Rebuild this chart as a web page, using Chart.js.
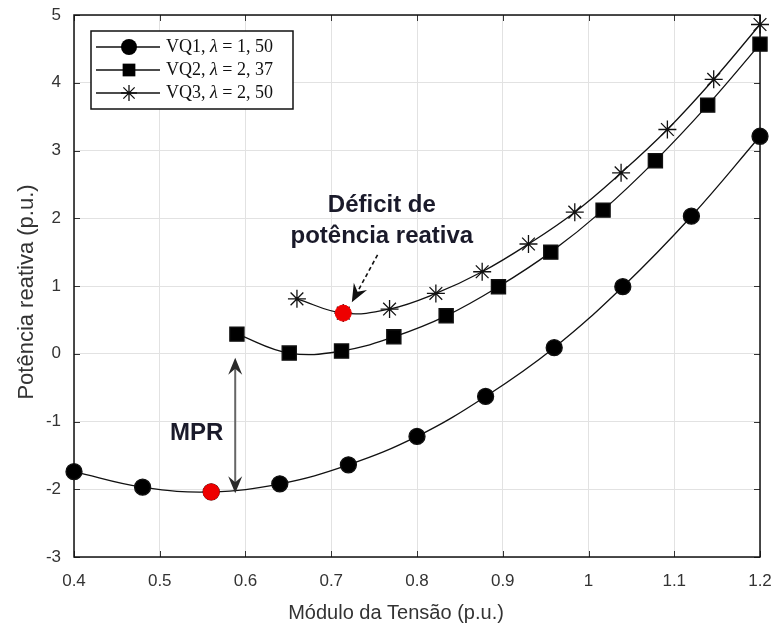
<!DOCTYPE html>
<html>
<head>
<meta charset="utf-8">
<script src="https://cdn.jsdelivr.net/npm/chart.js@4/dist/chart.umd.min.js"></script>
<style>
  html, body { margin: 0; padding: 0; background: #fff; }
  #wrap { width: 774px; height: 625px; position: relative; }
</style>
</head>
<body>
<div id="wrap"><canvas id="grafico"></canvas></div>
<script>
// ── datos ────────────────────────────────────────────────────────────────────
const vq1X = [0.40, 0.48, 0.56, 0.64, 0.72, 0.80, 0.88, 0.96, 1.04, 1.12, 1.20];
const vq1Y = [-1.74, -1.97, -2.04, -1.92, -1.64, -1.22, -0.63, 0.09, 0.99, 2.03, 3.21];

const vq2X = [0.59, 0.651, 0.712, 0.773, 0.834, 0.895, 0.956, 1.017, 1.078, 1.139, 1.20];
const vq2Y = [0.29, 0.01, 0.04, 0.25, 0.56, 0.99, 1.50, 2.12, 2.85, 3.67, 4.57];

const vq3X = [0.66, 0.714, 0.768, 0.822, 0.876, 0.93, 0.984, 1.038, 1.092, 1.146, 1.20];
const vq3Y = [0.81, 0.60, 0.66, 0.89, 1.21, 1.62, 2.09, 2.67, 3.31, 4.05, 4.86];

const seriesLabels = ['VQ1, ', 'VQ2, ', 'VQ3, '];
const lambdaValues = ['1, 50', '2, 37', '2, 50'];

// puntos marcados en rojo (índices dentro de VQ1 y VQ3)
const redPoints = [{ x: vq1X[2], y: vq1Y[2] }, { x: vq3X[1], y: vq3Y[1] }];

const xTicks = [0.4, 0.5, 0.6, 0.7, 0.8, 0.9, 1, 1.1, 1.2];
const yTicks = [-3, -2, -1, 0, 1, 2, 3, 4, 5];

// anotaciones (coordenadas de datos)
const mprArrow = { x: 0.588, top: -0.06, bottom: -2.06 };
const mprText = { x: 0.543, y: -1.27, text: 'MPR' };
const deficitArrow = { x0: 0.754, y0: 1.46, x1: 0.724, y1: 0.76 };
const deficitText = { x: 0.759, y1: 2.09, y2: 1.63, lines: ['Déficit de', 'potência reativa'] };

const xTitle = 'Módulo da Tensão (p.u.)';
const yTitle = 'Potência reativa (p.u.)';

const toXY = (xs, ys) => xs.map((x, i) => ({ x, y: ys[i] }));

// ── helpers de dibujo ────────────────────────────────────────────────────────
function arrowHead(ctx, tx, ty, ang, len, half, notch) {
  ctx.save();
  ctx.translate(tx, ty);
  ctx.rotate(ang);
  ctx.beginPath();
  ctx.moveTo(0, 0);
  ctx.lineTo(-len, -half);
  ctx.lineTo(-len + notch, 0);
  ctx.lineTo(-len, half);
  ctx.closePath();
  ctx.fill();
  ctx.restore();
}

function marker(ctx, style, x, y, r) {
  ctx.beginPath();
  if (style === 'circle') {
    ctx.arc(x, y, r, 0, Math.PI * 2);
    ctx.fill();
  } else if (style === 'rect') {
    const s = r * Math.SQRT1_2;
    ctx.fillRect(x - s, y - s, 2 * s, 2 * s);
  } else {
    for (let k = 0; k < 4; k++) {
      const a = k * Math.PI / 4;
      ctx.moveTo(x - r * Math.cos(a), y - r * Math.sin(a));
      ctx.lineTo(x + r * Math.cos(a), y + r * Math.sin(a));
    }
    ctx.stroke();
  }
}

// ── marco, ticks hacia dentro ────────────────────────────────────────────────
const framePlugin = {
  id: 'frame',
  beforeDatasetsDraw(chart) {
    const { ctx, chartArea: a, scales: { x, y } } = chart;
    ctx.save();
    ctx.strokeStyle = '#333';
    ctx.lineWidth = 1;
    ctx.beginPath();
    x.ticks.forEach(t => {
      const px = Math.round(x.getPixelForValue(t.value)) + 0.5;
      ctx.moveTo(px, a.bottom); ctx.lineTo(px, a.bottom - 6);
      ctx.moveTo(px, a.top); ctx.lineTo(px, a.top + 6);
    });
    y.ticks.forEach(t => {
      const py = Math.round(y.getPixelForValue(t.value)) + 0.5;
      ctx.moveTo(a.left, py); ctx.lineTo(a.left + 6, py);
      ctx.moveTo(a.right, py); ctx.lineTo(a.right - 6, py);
    });
    ctx.stroke();
    ctx.strokeStyle = '#111';
    ctx.lineWidth = 1.5;
    ctx.strokeRect(a.left, a.top, a.right - a.left, a.bottom - a.top);
    ctx.restore();
  },
};

// ── leyenda, anotaciones y títulos ───────────────────────────────────────────
const overlayPlugin = {
  id: 'overlay',
  afterDraw(chart) {
    const { ctx, chartArea: a, scales: { x, y } } = chart;
    ctx.save();

    // flecha MPR (doble)
    const mx = x.getPixelForValue(mprArrow.x);
    const mt = y.getPixelForValue(mprArrow.top);
    const mb = y.getPixelForValue(mprArrow.bottom);
    ctx.strokeStyle = '#666';
    ctx.fillStyle = '#2a2a2a';
    ctx.lineWidth = 2;
    ctx.beginPath();
    ctx.moveTo(mx, mt + 8); ctx.lineTo(mx, mb - 8);
    ctx.stroke();
    arrowHead(ctx, mx, mt, -Math.PI / 2, 17, 7, 6);
    arrowHead(ctx, mx, mb, Math.PI / 2, 17, 7, 6);

    ctx.fillStyle = '#1a1a2a';
    ctx.font = 'bold 24px "Liberation Sans", Arial, sans-serif';
    ctx.textAlign = 'center';
    ctx.textBaseline = 'alphabetic';
    ctx.fillText(mprText.text, x.getPixelForValue(mprText.x), y.getPixelForValue(mprText.y));

    // texto y flecha discontinua del déficit
    const dx = x.getPixelForValue(deficitText.x);
    ctx.fillText(deficitText.lines[0], dx, y.getPixelForValue(deficitText.y1));
    ctx.fillText(deficitText.lines[1], dx, y.getPixelForValue(deficitText.y2));

    const ax0 = x.getPixelForValue(deficitArrow.x0), ay0 = y.getPixelForValue(deficitArrow.y0);
    const ax1 = x.getPixelForValue(deficitArrow.x1), ay1 = y.getPixelForValue(deficitArrow.y1);
    const ang = Math.atan2(ay1 - ay0, ax1 - ax0);
    ctx.strokeStyle = '#111';
    ctx.fillStyle = '#111';
    ctx.lineWidth = 1.6;
    ctx.setLineDash([4, 3]);
    ctx.beginPath();
    ctx.moveTo(ax0, ay0);
    ctx.lineTo(ax1 - 12 * Math.cos(ang), ay1 - 12 * Math.sin(ang));
    ctx.stroke();
    ctx.setLineDash([]);
    arrowHead(ctx, ax1, ay1, ang, 18, 7.5, 6);

    // leyenda
    const lx = a.left + 17, ly = a.top + 16, lw = 202, lh = 78;
    ctx.fillStyle = '#fff';
    ctx.fillRect(lx, ly, lw, lh);
    ctx.strokeStyle = '#111';
    ctx.lineWidth = 1.5;
    ctx.strokeRect(lx, ly, lw, lh);
    const styles = ['circle', 'rect', 'star'];
    const radii = [8, 9, 8];
    styles.forEach((st, i) => {
      const ry = ly + 16 + i * 23;
      ctx.strokeStyle = '#111';
      ctx.fillStyle = '#000';
      ctx.lineWidth = 1.3;
      ctx.beginPath();
      ctx.moveTo(lx + 5, ry); ctx.lineTo(lx + 69, ry);
      ctx.stroke();
      marker(ctx, st, lx + 38, ry, radii[i]);
      let tx = lx + 75;
      ctx.textAlign = 'left';
      ctx.textBaseline = 'middle';
      ctx.fillStyle = '#111';
      ctx.font = '18px "Liberation Serif", "DejaVu Serif", serif';
      ctx.fillText(seriesLabels[i], tx, ry);
      tx += ctx.measureText(seriesLabels[i]).width;
      ctx.font = 'italic 18px "Liberation Serif", "DejaVu Serif", serif';
      ctx.fillText('λ', tx, ry);
      tx += ctx.measureText('λ').width;
      ctx.font = '18px "Liberation Serif", "DejaVu Serif", serif';
      ctx.fillText(' = ' + lambdaValues[i], tx, ry);
    });

    // títulos de ejes
    ctx.fillStyle = '#333';
    ctx.textAlign = 'center';
    ctx.textBaseline = 'alphabetic';
    ctx.font = '20px "Liberation Sans", Arial, sans-serif';
    ctx.fillText(xTitle, 396, 619);
    ctx.font = '22px "Liberation Sans", Arial, sans-serif';
    ctx.translate(33, (a.top + a.bottom) / 2 + 6);
    ctx.rotate(-Math.PI / 2);
    ctx.fillText(yTitle, 0, 0);

    ctx.restore();
  },
};

const lineBase = {
  borderColor: '#111',
  backgroundColor: '#000',
  borderWidth: 1.3,
  tension: 0.4,
  clip: false,
  pointBorderWidth: 1.3,
  pointHoverRadius: 8,
  order: 1,
};

new Chart(document.getElementById('grafico'), {
  type: 'line',
  data: {
    datasets: [
      {
        label: 'destaque',
        data: redPoints,
        showLine: false,
        pointStyle: 'circle',
        pointRadius: 8,
        pointBackgroundColor: '#ee0000',
        pointBorderColor: '#ee0000',
        clip: false,
        order: 0,
      },
      { ...lineBase, label: 'VQ1', data: toXY(vq1X, vq1Y), pointStyle: 'circle', pointRadius: 8 },
      { ...lineBase, label: 'VQ2', data: toXY(vq2X, vq2Y), pointStyle: 'rect', pointRadius: 10 },
      { ...lineBase, label: 'VQ3', data: toXY(vq3X, vq3Y), pointStyle: 'star', pointRadius: 9 },
    ],
  },
  options: {
    responsive: true,
    maintainAspectRatio: false,
    animation: false,
    layout: { padding: { top: 15, right: 14, left: 0, bottom: 0 } },
    plugins: { legend: { display: false }, tooltip: { enabled: false } },
    scales: {
      x: {
        type: 'linear',
        min: 0.4, max: 1.2,
        afterBuildTicks: s => { s.ticks = xTicks.map(v => ({ value: v })); },
        afterFit: s => { s.height = 68; s.paddingLeft = 0; s.paddingRight = 0; },
        grid: { color: '#e2e2e2', drawTicks: false },
        border: { display: false },
        ticks: {
          padding: 14,
          color: '#333',
          font: { size: 17, family: '"Liberation Sans", Arial, sans-serif' },
          callback: v => String(v),
        },
      },
      y: {
        min: -3, max: 5,
        afterBuildTicks: s => { s.ticks = yTicks.map(v => ({ value: v })); },
        afterFit: s => { s.width = 74; s.paddingTop = 0; s.paddingBottom = 0; },
        grid: { color: '#e2e2e2', drawTicks: false },
        border: { display: false },
        ticks: {
          padding: 13,
          color: '#333',
          font: { size: 17, family: '"Liberation Sans", Arial, sans-serif' },
        },
      },
    },
  },
  plugins: [framePlugin, overlayPlugin],
});
</script>
</body>
</html>
